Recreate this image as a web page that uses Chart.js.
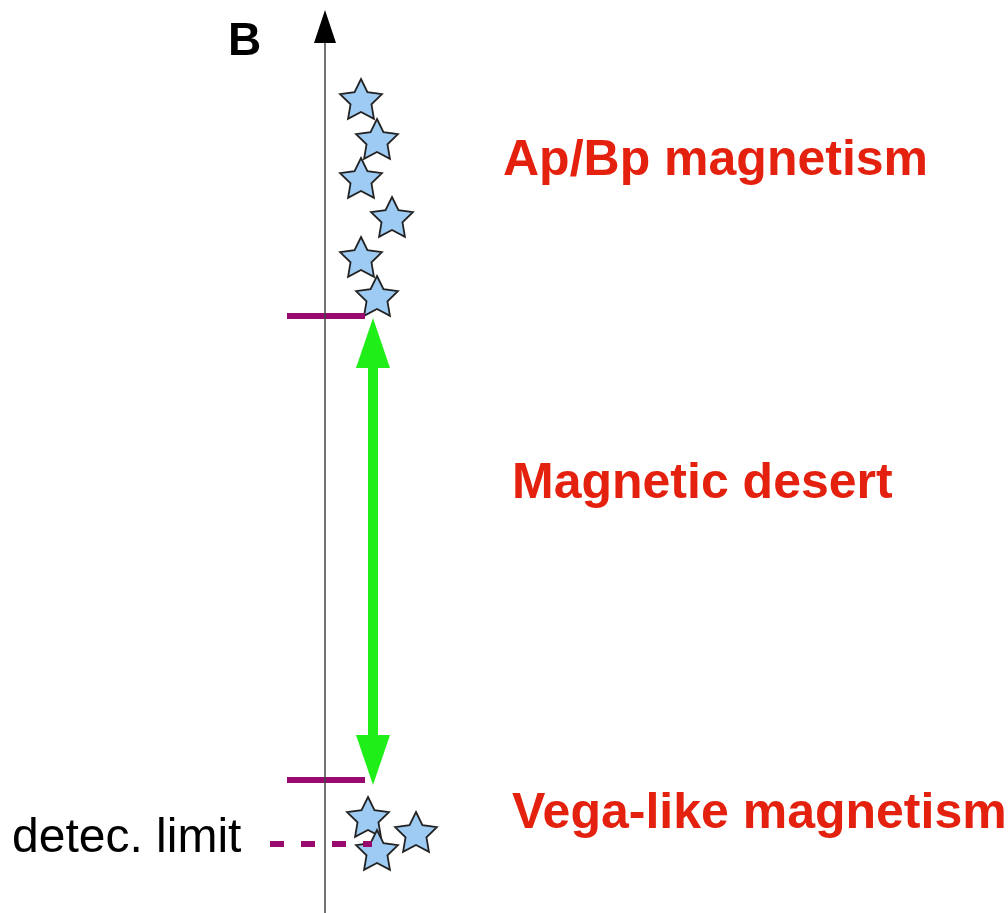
<!DOCTYPE html>
<html>
<head>
<meta charset="utf-8">
<script src="https://cdn.jsdelivr.net/npm/chart.js@4.4.1/dist/chart.umd.min.js"></script>
<style>
    html, body { margin: 0; padding: 0; background: #fff; }
    #wrap { width: 1008px; height: 913px; position: relative; }
</style>
</head>
<body>
<div id="wrap"><canvas id="schema"></canvas></div>
<script>
// schematic units: x across the page, B up the axis (0 = bottom)
const apbpStarX = [361, 377, 361, 392, 361, 377];
const apbpStarB = [814, 774, 735, 696, 656, 617];
const vegaStarX = [368, 377, 416];
const vegaStarB = [96, 63, 81];

const axisX = 325;
const axisB = [0, 903];          // line start, arrow tip
const upperLimitX = [287, 365];
const upperLimitB = 597;
const lowerLimitX = [287, 365];
const lowerLimitB = 133;
const detecLimitX = [270, 372];
const detecLimitB = 69;
const desertX = 373;
const desertB = [128, 595];      // arrow tips (bottom, top)

const labelTexts = ["B", "Ap/Bp magnetism", "Magnetic desert", "Vega-like magnetism", "detec. limit"];
const labelX = [228, 503, 512, 512, 12];
const labelB = [858, 738, 415, 85, 61];

const PURPLE = '#990a6e';
const GREEN = '#20ee18';
const RED = '#e3210e';

function makeStar(size) {
    const c = document.createElement('canvas');
    c.width = size; c.height = size;
    const g = c.getContext('2d');
    const cx = size / 2, cy = size / 2 + 2, R = size / 2 - 2, r = R * 0.5;
    g.beginPath();
    for (let i = 0; i < 10; i++) {
        const rad = i % 2 === 0 ? R : r;
        const a = -Math.PI / 2 + i * Math.PI / 5;
        const px = cx + rad * Math.cos(a), py = cy + rad * Math.sin(a);
        if (i === 0) g.moveTo(px, py); else g.lineTo(px, py);
    }
    g.closePath();
    g.fillStyle = '#9ecbf3';
    g.fill();
    g.lineWidth = 1.8;
    g.strokeStyle = '#222';
    g.lineJoin = 'miter';
    g.stroke();
    return c;
}
const star = makeStar(48);

function pts(xs, bs) {
    return xs.map((x, i) => ({ x: x, y: Array.isArray(bs) ? bs[i] : bs }));
}

const schemaPlugin = {
    id: 'schema',
    beforeDatasetsDraw(chart) {
        const { ctx, scales } = chart;
        const sx = v => scales.x.getPixelForValue(v);
        const sy = v => scales.y.getPixelForValue(v);
        // green double arrow (magnetic desert)
        const x = sx(desertX), yTop = sy(desertB[1]), yBot = sy(desertB[0]);
        const headH = 50, headW = 17;
        ctx.save();
        ctx.fillStyle = GREEN;
        ctx.fillRect(x - 5, yTop + headH - 2, 10, (yBot - yTop) - 2 * headH + 4);
        ctx.beginPath();
        ctx.moveTo(x, yTop); ctx.lineTo(x - headW, yTop + headH); ctx.lineTo(x + headW, yTop + headH);
        ctx.closePath(); ctx.fill();
        ctx.beginPath();
        ctx.moveTo(x, yBot); ctx.lineTo(x - headW, yBot - headH); ctx.lineTo(x + headW, yBot - headH);
        ctx.closePath(); ctx.fill();
        ctx.restore();
    },
    afterDatasetsDraw(chart) {
        const { ctx, scales } = chart;
        const sx = v => scales.x.getPixelForValue(v);
        const sy = v => scales.y.getPixelForValue(v);
        ctx.save();
        // arrow head of the B axis
        const tipY = sy(axisB[1]), ax = sx(axisX);
        ctx.fillStyle = '#000';
        ctx.beginPath();
        ctx.moveTo(ax, tipY); ctx.lineTo(ax - 11, tipY + 33); ctx.lineTo(ax + 11, tipY + 33);
        ctx.closePath(); ctx.fill();
        // labels
        ctx.textBaseline = 'alphabetic';
        ctx.textAlign = 'left';
        labelTexts.forEach((t, i) => {
            if (i === 0) { ctx.font = 'bold 46px "Liberation Sans", Arial, sans-serif'; ctx.fillStyle = '#000'; }
            else if (i === 4) { ctx.font = '48px "Liberation Sans", Arial, sans-serif'; ctx.fillStyle = '#000'; }
            else { ctx.font = 'bold 50px "Liberation Sans", Arial, sans-serif'; ctx.fillStyle = RED; }
            ctx.fillText(t, sx(labelX[i]), sy(labelB[i]));
        });
        ctx.restore();
    }
};

const lineSet = (data, color, width, dash) => ({
    type: 'line',
    data: data,
    borderColor: color,
    borderWidth: width,
    borderDash: dash || [],
    pointRadius: 0,
    showLine: true,
    fill: false,
    clip: false
});

new Chart(document.getElementById('schema'), {
    type: 'scatter',
    data: {
        datasets: [
            lineSet(pts([axisX, axisX], [axisB[0], axisB[1] - 20]), '#444', 1.5),
            lineSet(pts(upperLimitX, upperLimitB), PURPLE, 6),
            lineSet(pts(lowerLimitX, lowerLimitB), PURPLE, 6),
            lineSet(pts(detecLimitX, detecLimitB), PURPLE, 6, [14, 17]),
            {
                data: pts(apbpStarX, apbpStarB),
                pointStyle: star,
                pointRadius: 24,
                clip: false
            },
            {
                data: pts(vegaStarX, vegaStarB),
                pointStyle: star,
                pointRadius: 24,
                clip: false
            }
        ]
    },
    options: {
        responsive: true,
        maintainAspectRatio: false,
        animation: false,
        layout: { padding: 0, autoPadding: false },
        plugins: { legend: { display: false }, tooltip: { enabled: false } },
        scales: {
            x: { type: 'linear', min: 0, max: 1008, display: false },
            y: { type: 'linear', min: 0, max: 913, display: false }
        }
    },
    plugins: [schemaPlugin]
});
</script>
</body>
</html>
